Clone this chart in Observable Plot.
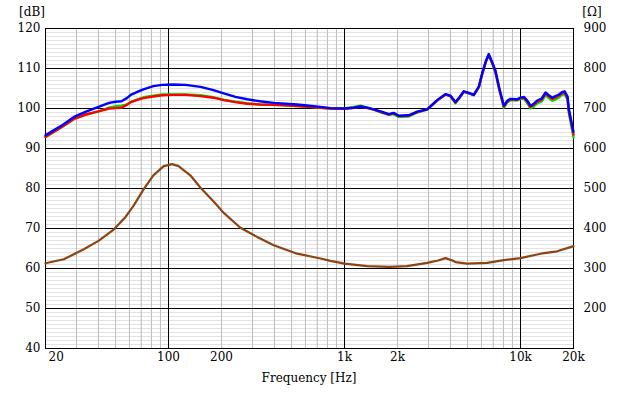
<!DOCTYPE html>
<html><head><meta charset="utf-8">
<script src="https://cdn.jsdelivr.net/npm/d3@7"></script>
<script src="https://cdn.jsdelivr.net/npm/@observablehq/plot@0.6"></script>
<style>body{margin:0;background:#fff;}</style>
</head><body><div id="chart"></div>
<script>
const freq = [20,22,25,29,34,40,46,50,54,58,61,67,72,82,92,105,125,152,180,206,240,280,330,396,460,538,630,731,832,1000,1130,1233,1350,1466,1620,1786,1900,2034,2318,2587,2949,3360,3746,4000,4270,4500,4760,5100,5425,5800,6050,6350,6600,6900,7200,7600,8040,8400,8770,9570,10000,10480,11000,11380,11900,12440,13200,13880,14500,15150,16520,17200,17800,18500,18800,19400,20000];
const splBlue = [93.3,94.4,95.9,97.9,99.2,100.4,101.4,101.7,101.8,102.6,103.4,104.2,104.8,105.6,105.9,106.0,105.9,105.4,104.6,103.8,102.9,102.3,101.8,101.4,101.2,101.0,100.7,100.4,100.1,100.0,100.2,100.5,100.2,99.8,99.2,98.6,98.9,98.2,98.3,99.2,99.8,102.1,103.6,103.2,101.6,102.8,104.3,103.9,103.4,105.5,108.7,111.8,113.6,111.6,109.5,104.8,100.7,101.9,102.4,102.3,102.7,102.9,101.8,100.7,101.2,102.0,102.5,104.0,103.3,102.7,103.5,104.1,104.3,103.0,100.0,97.0,94.2];
const splRed = [92.9,94.0,95.5,97.4,98.5,99.3,100.0,100.1,100.2,100.9,101.6,102.2,102.6,103.0,103.3,103.4,103.4,103.1,102.7,102.1,101.6,101.2,101.0,100.9,100.8,100.6,100.4,100.2,100.0,99.9,100.2,100.5,100.1,99.7,99.1,98.5,98.8,98.1,98.2,99.1,99.8,102.0,103.5,103.1,101.5,102.7,104.2,103.8,103.4,105.4,108.6,111.7,113.5,111.4,109.2,104.6,100.5,101.7,102.3,102.2,102.6,102.7,101.5,100.4,100.9,101.7,102.2,103.7,103.0,102.4,103.2,103.8,104.0,102.6,99.5,96.5,93.5];
const splGreen = [92.9,94.0,95.5,97.4,98.5,99.3,100.2,100.6,100.7,101.0,101.6,102.3,102.8,103.2,103.5,103.5,103.5,103.3,102.8,102.2,101.7,101.3,101.0,100.9,100.8,100.6,100.4,100.2,100.0,100.0,100.4,100.7,100.2,99.7,99.0,98.4,98.6,97.9,98.0,99.0,99.7,102.0,103.5,103.0,101.3,102.6,104.2,103.8,103.3,105.3,108.5,111.6,113.4,111.3,109.0,104.4,100.2,101.5,102.1,102.0,102.4,102.4,101.1,100.0,100.5,101.3,101.8,103.3,102.6,101.9,102.7,103.4,103.6,102.2,99.0,95.8,92.8];
const zFreq = [20,25.4,33,40,49,57,63.5,72,82,94,105,114,133,152,181,206,256,319,396,538,731,832,1000,1346,1800,2260,2949,3400,3746,4100,4270,4980,6460,8040,10000,13000,16150,20000];
const zOhm = [313,323,348,369,398,429,458,497,533,556,561,556,533,502,467,439,402,379,358,337,325,319,312,306,304,306,314,320,326,320,316,312,314,321,326,337,343,356];
const xTicks = [20,50,100,200,500,1000,2000,5000,10000,20000];
const xTickLabels = ["20","50","100","200","500","1k","2k","5k","10k","20k"];
const dbTicks = [40,50,60,70,80,90,100,110,120];
const ohmTicks = [200,300,400,500,600,700,800,900];
const majorX = [100,1000,10000];

const ohmToDb = o => 60 + (o - 300) / 10;
const dbToOhm = d => Math.round(300 + (d - 60) * 10);
const labelOf = f => xTickLabels[xTicks.indexOf(f)];

const minorX = [];
for (const dec of [10,100,1000,10000]) for (let k = 2; k <= 9; k++) { const f = dec*k; if (f > 20 && f < 20000) minorX.push(f); }
const minorY = d3.range(41, 120).filter(d => d % 10 !== 0);

const series = (vals) => freq.map((f, i) => ({f, v: vals[i]}));
const imp = zFreq.map((f, i) => ({f, v: ohmToDb(zOhm[i])}));

const chart = Plot.plot({
  width: 620, height: 396,
  marginLeft: 45, marginRight: 47, marginTop: 28, marginBottom: 48,
  style: {fontFamily: "'DejaVu Serif', serif", fontSize: "12px", background: "#fff", color: "#000"},
  x: {type: "log", domain: [20, 20000], axis: null},
  y: {domain: [40, 120], axis: null},
  marks: [
    Plot.ruleY(minorY, {stroke: "#e2e2e2", strokeWidth: 1}),
    Plot.ruleX(minorX, {stroke: "#bdbdbd", strokeWidth: 1}),
    Plot.ruleY(dbTicks, {stroke: "#000", strokeWidth: 1}),
    Plot.ruleX(majorX, {stroke: "#000", strokeWidth: 1}),
    Plot.frame({stroke: "#000"}),
    Plot.line(imp, {x: "f", y: "v", stroke: "#8b4513", strokeWidth: 2.2}),
    Plot.line(series(splGreen), {x: "f", y: "v", stroke: "#00e000", strokeWidth: 2.4}),
    Plot.line(series(splRed), {x: "f", y: "v", stroke: "#ff0000", strokeWidth: 2.4}),
    Plot.line(series(splBlue), {x: "f", y: "v", stroke: "#0000ff", strokeWidth: 2.4}),
    Plot.axisY(dbTicks, {anchor: "left", tickSize: 0, tickPadding: 5, label: null}),
    Plot.axisY(ohmTicks.map(ohmToDb), {anchor: "right", tickSize: 0, tickPadding: 10, label: null, tickFormat: d => String(dbToOhm(d))}),
    Plot.axisX(xTicks.slice(1), {anchor: "bottom", tickSize: 0, tickPadding: 4, label: null, tickFormat: labelOf}),
    Plot.axisX([20], {anchor: "bottom", tickSize: 0, tickPadding: 4, label: null, textAnchor: "start", dx: 3, tickFormat: labelOf})
  ]
});
document.getElementById("chart").appendChild(chart);
const svg = d3.select(chart);
const addText = (x, y, t, anchor) => svg.append("text").attr("x", x).attr("y", y).attr("text-anchor", anchor)
  .attr("dominant-baseline", "middle").style("font-family", "'DejaVu Serif', serif").style("font-size", "12px").attr("fill", "#000").text(t);
addText(32, 12, "[dB]", "middle");
addText(592, 12, "[Ω]", "middle");
addText(309, 378, "Frequency [Hz]", "middle");
</script>
</body></html>
